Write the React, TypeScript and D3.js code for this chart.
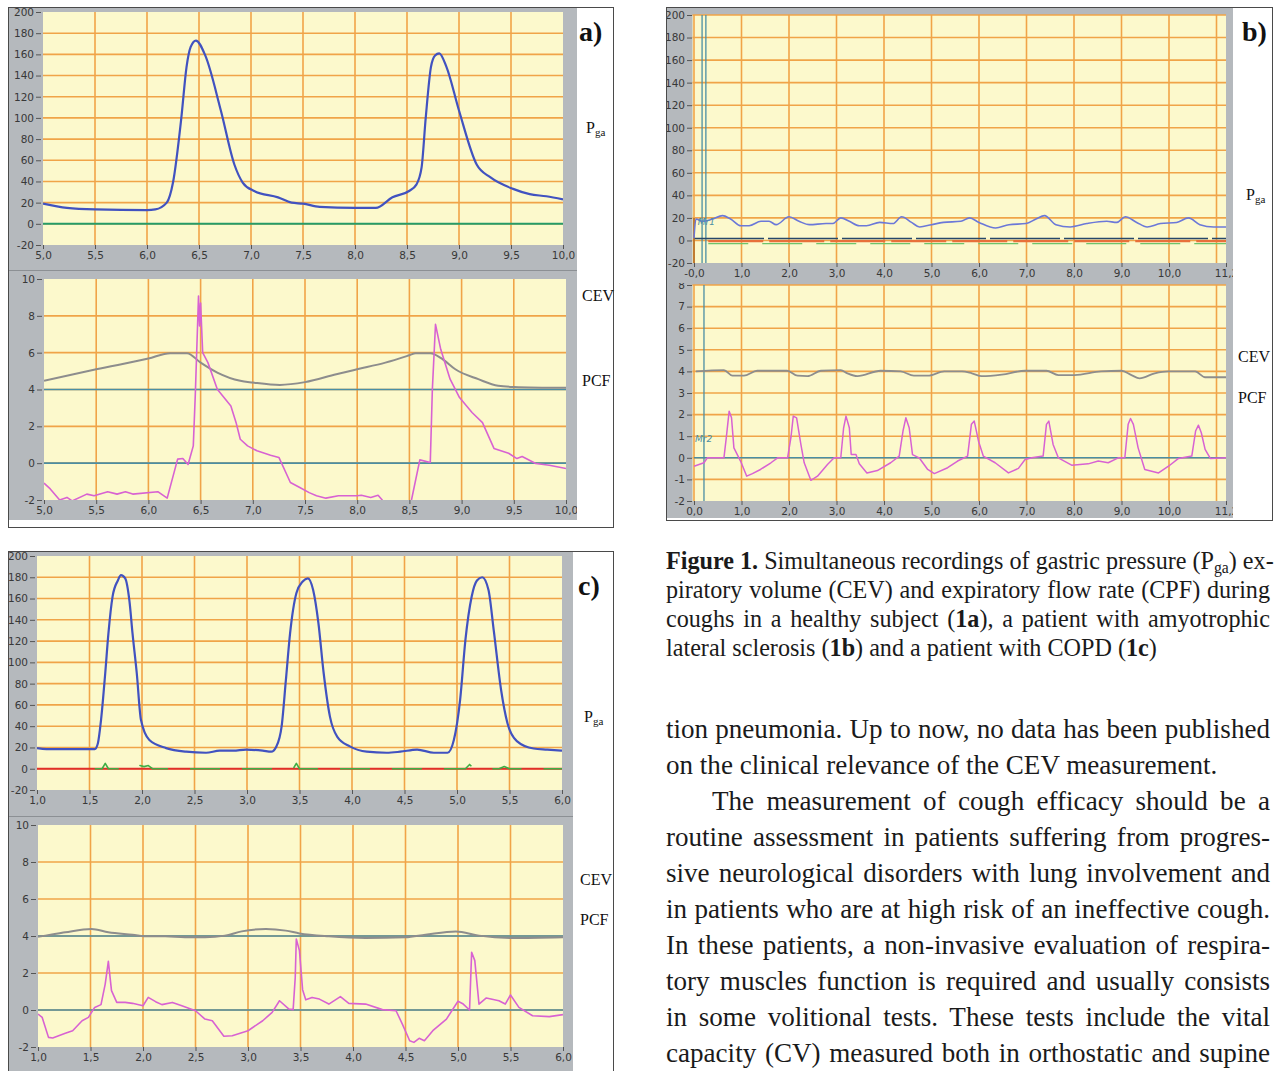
import { useEffect, useRef } from 'react';
import * as d3 from 'd3';

type Pt = [number, number];

// ---- axis ticks ----
const aTimeTicks = [5, 5.5, 6, 6.5, 7, 7.5, 8, 8.5, 9, 9.5, 10];
const cTimeTicks = [1, 1.5, 2, 2.5, 3, 3.5, 4, 4.5, 5, 5.5, 6];
const bTimeTicks = [0, 1, 2, 3, 4, 5, 6, 7, 8, 9, 10, 11.2];
const bTimeGrid = [0, 1, 2, 3, 4, 5, 6, 7, 8, 9, 10, 11];
const bTopTimeLabels = ['-0,0', '1,0', '2,0', '3,0', '4,0', '5,0', '6,0', '7,0', '8,0', '9,0', '10,0', '11,2'];
const bBotTimeLabels = ['0,0', '1,0', '2,0', '3,0', '4,0', '5,0', '6,0', '7,0', '8,0', '9,0', '10,0', '11,2'];
const pgaTicks = [-20, 0, 20, 40, 60, 80, 100, 120, 140, 160, 180, 200];
const flowTicks = [-2, 0, 2, 4, 6, 8, 10];
const bFlowTicks = [-2, -1, 0, 1, 2, 3, 4, 5, 6, 7, 8];

// ---- panel a: healthy subject ----
const aPga: Pt[] = [[5.0, 19], [5.23, 15], [5.5, 13.6], [6.0, 13], [6.08, 13.6], [6.19, 20], [6.25, 39], [6.33, 100], [6.38, 148], [6.42, 167], [6.47, 173], [6.56, 159], [6.71, 107], [6.84, 56], [6.92, 39], [7.03, 31], [7.26, 25], [7.39, 20], [7.5, 19], [7.66, 16], [8.0, 15], [8.2, 15], [8.36, 25], [8.52, 31], [8.59, 37], [8.64, 53], [8.68, 100], [8.73, 148], [8.77, 159], [8.81, 161], [8.88, 148], [9.0, 107], [9.17, 56], [9.3, 44], [9.52, 33], [9.68, 28], [9.84, 26], [10.0, 23]];
const aZero: Pt[] = [[5, 0], [10, 0]];
const aCev: Pt[] = [[5.0, 4.47], [5.5, 5.1], [6.0, 5.68], [6.21, 5.97], [6.37, 5.97], [6.5, 5.46], [6.66, 4.92], [6.88, 4.47], [7.0, 4.38], [7.26, 4.25], [7.5, 4.4], [7.8, 4.83], [8.0, 5.1], [8.27, 5.46], [8.5, 5.86], [8.56, 5.97], [8.7, 5.97], [8.82, 5.64], [8.94, 5.1], [9.16, 4.56], [9.35, 4.2], [9.5, 4.14], [10.0, 4.09]];
const aPcf: Pt[] = [[5.0, -1.08], [5.06, -1.4], [5.15, -2.0], [5.22, -1.86], [5.27, -2.05], [5.41, -1.68], [5.48, -1.77], [5.61, -1.55], [5.7, -1.68], [5.78, -1.55], [5.85, -1.68], [6.09, -1.55], [6.18, -1.9], [6.28, 0.22], [6.33, 0.25], [6.38, -0.07], [6.43, 0.94], [6.45, 3.83], [6.48, 9.08], [6.49, 7.45], [6.5, 8.7], [6.52, 6.0], [6.57, 5.46], [6.66, 4.01], [6.79, 3.11], [6.84, 2.2], [6.88, 1.3], [6.95, 0.94], [7.04, 0.67], [7.17, 0.43], [7.25, 0.31], [7.36, -1.05], [7.45, -1.32], [7.54, -1.6], [7.61, -1.77], [7.7, -1.9], [7.82, -1.77], [8.0, -1.77], [8.04, -1.74], [8.13, -1.86], [8.2, -1.74], [8.24, -2.0], [8.27, -2.6], [8.48, -2.6], [8.52, -2.0], [8.6, 0.18], [8.7, 0.04], [8.72, 4.01], [8.75, 7.54], [8.8, 6.18], [8.89, 4.56], [8.98, 3.56], [9.1, 2.75], [9.2, 2.2], [9.31, 0.8], [9.45, 0.54], [9.53, 0.25], [9.58, 0.36], [9.71, -0.02], [9.84, -0.11], [10.0, -0.29]];
const flowRefs = [0, 4];

// ---- panel b: ALS patient ----
const bPga: Pt[] = [[0.0, 2], [0.04, 19], [0.18, 17], [0.39, 19], [0.6, 22], [0.77, 19], [0.99, 13], [1.16, 13], [1.41, 17], [1.58, 17], [1.73, 14], [2.0, 21], [2.21, 17], [2.43, 14], [2.78, 15], [2.92, 15], [3.09, 20], [3.27, 17], [3.48, 13], [3.63, 13], [3.91, 16], [4.19, 15], [4.37, 21], [4.58, 16], [4.75, 12], [5.0, 14], [5.25, 16], [5.62, 17], [5.8, 20], [6.0, 16], [6.35, 11], [6.63, 14], [6.99, 15], [7.2, 19], [7.38, 22], [7.62, 14], [7.92, 12], [8.27, 15], [8.69, 17], [8.9, 16], [9.08, 21], [9.32, 16], [9.54, 12], [9.82, 15], [10.16, 16], [10.41, 20], [10.65, 14], [10.94, 12], [11.2, 12]];
const bBaseDark: Pt[] = [[0, 1.8], [11.2, 1.8]];
const bBaseOrange: Pt[] = [[0.3, -0.6], [11.2, -0.6]];
const bBaseGreen: Pt[] = [[0.3, -2.8], [11.2, -2.8]];
const bMarker: Pt[] = [[0, 20], [0, -20]];
const bCursorsTop = [0.17, 0.25];
const bCursorsBot = [0.21];
const bCev: Pt[] = [[0.04, 4.0], [0.63, 4.06], [0.81, 3.8], [1.05, 3.8], [1.33, 4.03], [1.96, 4.03], [2.18, 3.8], [2.39, 3.78], [2.67, 4.03], [3.09, 4.06], [3.23, 3.91], [3.44, 3.78], [3.93, 4.03], [4.35, 4.0], [4.63, 3.8], [4.92, 3.8], [5.27, 4.0], [5.64, 4.0], [5.85, 3.91], [6.06, 3.78], [6.48, 3.85], [6.97, 4.03], [7.42, 4.03], [7.67, 3.83], [8.01, 3.83], [8.57, 4.0], [9.0, 4.03], [9.21, 3.83], [9.38, 3.68], [9.7, 3.91], [9.99, 4.0], [10.55, 4.0], [10.76, 3.73], [11.2, 3.73]];
const bPcf: Pt[] = [[0.0, -0.39], [0.21, -0.23], [0.28, 0], [0.49, 0], [0.63, 0], [0.68, 0.93], [0.74, 2.16], [0.79, 1.85], [0.84, 0.46], [0.98, -0.15], [1.11, -0.85], [1.23, -0.73], [1.4, -0.54], [1.62, -0.23], [1.76, 0], [1.97, 0], [2.04, 0.93], [2.09, 1.93], [2.16, 1.85], [2.25, 0.62], [2.32, -0.23], [2.46, -1.04], [2.6, -0.85], [2.81, -0.31], [2.95, 0], [3.09, 0], [3.15, 1.39], [3.2, 1.93], [3.27, 1.39], [3.31, 0.15], [3.41, 0.15], [3.48, -0.28], [3.64, -0.7], [3.86, -0.59], [4.14, -0.23], [4.32, 0.08], [4.4, 1.24], [4.46, 1.85], [4.53, 1.39], [4.6, 0.15], [4.74, 0], [4.92, -0.54], [5.06, -0.73], [5.34, -0.46], [5.55, -0.15], [5.76, 0.08], [5.84, 1.55], [5.9, 1.7], [5.99, 0.77], [6.09, 0.08], [6.34, -0.23], [6.62, -0.7], [6.83, -0.49], [6.97, -0.08], [7.11, 0], [7.35, 0.08], [7.42, 1.55], [7.47, 1.7], [7.56, 0.62], [7.67, 0], [7.95, -0.34], [8.3, -0.28], [8.51, -0.15], [8.72, -0.23], [8.93, 0], [9.07, 0], [9.14, 1.55], [9.19, 1.82], [9.25, 1.55], [9.35, 0.46], [9.49, -0.54], [9.78, -0.7], [9.99, -0.39], [10.2, -0.03], [10.48, 0.08], [10.56, 1.24], [10.62, 1.51], [10.68, 1.16], [10.76, 0.39], [10.87, -0.03], [11.2, 0]];

// ---- panel c: COPD patient ----
const cPga: Pt[] = [[1.0, 19.4], [1.09, 18.4], [1.55, 18.4], [1.58, 24], [1.61, 46], [1.65, 90], [1.68, 127], [1.72, 162], [1.77, 177], [1.8, 182], [1.84, 179], [1.88, 158], [1.91, 127], [1.95, 90], [1.99, 46], [2.07, 27], [2.23, 19.4], [2.42, 16], [2.61, 15], [2.74, 17], [2.87, 17], [2.99, 18], [3.15, 17], [3.23, 16], [3.28, 21], [3.33, 40], [3.37, 83], [3.41, 127], [3.47, 165], [3.53, 176], [3.58, 179], [3.63, 168], [3.68, 137], [3.73, 90], [3.79, 49], [3.86, 30], [3.98, 21], [4.14, 16], [4.33, 15], [4.46, 16], [4.62, 18], [4.78, 15], [4.91, 15], [4.97, 27], [5.03, 65], [5.08, 121], [5.14, 162], [5.19, 177], [5.24, 180], [5.3, 168], [5.35, 130], [5.42, 74], [5.48, 43], [5.57, 26], [5.73, 19], [5.86, 18], [6.0, 17]];
const cRed: Pt[] = [[1, 0], [6, 0]];
const cGreen: Pt[] = [[1.55, 0], [1.62, 0], [1.65, 5], [1.68, 0], [1.95, 0], [1.98, 3], [2.02, 2], [2.06, 3], [2.1, 0], [3.44, 0], [3.47, 5], [3.5, 0], [5.08, 0], [5.12, 4], [5.16, 0], [5.4, 0], [5.45, 2], [5.5, 0], [6.0, 0]];
const cCev: Pt[] = [[1.0, 3.96], [1.07, 4.02], [1.26, 4.2], [1.51, 4.38], [1.67, 4.2], [1.9, 4.07], [2.05, 3.98], [2.21, 3.98], [2.4, 3.93], [2.59, 3.93], [2.78, 4.02], [2.94, 4.25], [3.17, 4.38], [3.36, 4.29], [3.49, 4.14], [3.77, 3.98], [4.12, 3.89], [4.5, 3.93], [4.69, 4.07], [4.98, 4.25], [5.2, 4.02], [5.52, 3.89], [6.0, 3.93]];
const cPcf: Pt[] = [[1.0, -0.22], [1.04, -0.4], [1.1, -1.48], [1.14, -1.51], [1.26, -1.26], [1.33, -1.12], [1.42, -0.58], [1.48, -0.4], [1.54, 0.14], [1.6, 0.29], [1.64, 1.4], [1.67, 2.63], [1.7, 1.05], [1.75, 0.41], [1.83, 0.41], [1.9, 0.36], [2.0, 0.23], [2.05, 0.68], [2.12, 0.45], [2.18, 0.29], [2.28, 0.41], [2.37, 0.23], [2.5, -0.04], [2.59, -0.49], [2.66, -0.58], [2.77, -1.42], [2.85, -1.39], [3.0, -1.12], [3.14, -0.58], [3.23, -0.13], [3.3, 0.5], [3.39, 0.05], [3.43, 0.02], [3.45, 1.77], [3.46, 3.84], [3.49, 3.21], [3.52, 1.1], [3.55, 0.55], [3.61, 0.68], [3.68, 0.59], [3.77, 0.32], [3.88, 0.72], [3.96, 0.36], [4.12, 0.32], [4.28, 0.02], [4.41, -0.04], [4.47, -0.76], [4.54, -1.66], [4.58, -1.75], [4.63, -1.53], [4.68, -1.66], [4.76, -1.12], [4.89, -0.49], [5.0, 0.47], [5.05, 0.32], [5.11, 0.0], [5.13, 3.12], [5.16, 2.67], [5.2, 0.32], [5.27, 0.65], [5.39, 0.5], [5.45, 0.32], [5.5, 0.81], [5.58, 0.14], [5.71, -0.31], [5.87, -0.36], [6.0, -0.25]];

// ---- text ----
const captionLines = [
  [{ t: 'Figure 1.', b: true }, { t: ' Simultaneous recordings of gastric pressure (P' }, { t: 'ga', sub: true }, { t: ') ex-' }],
  [{ t: 'piratory volume (CEV) and expiratory flow rate (CPF) during' }],
  [{ t: 'coughs in a healthy subject (' }, { t: '1a', b: true }, { t: '), a patient with amyotrophic' }],
  [{ t: 'lateral sclerosis (' }, { t: '1b', b: true }, { t: ') and a patient with COPD (' }, { t: '1c', b: true }, { t: ')' }],
];
const bodyLines = [
  'tion pneumonia. Up to now, no data has been published',
  'on the clinical relevance of the CEV measurement.',
  'The measurement of cough efficacy should be a',
  'routine assessment in patients suffering from progres-',
  'sive neurological disorders with lung involvement and',
  'in patients who are at high risk of an ineffective cough.',
  'In these patients, a non-invasive evaluation of respira-',
  'tory muscles function is required and usually consists',
  'in some volitional tests. These tests include the vital',
  'capacity (CV) measured both in orthostatic and supine',
];

const YELLOW = '#fcf9cc';
const GRID = '#f0a448';
const WIN = '#b5b9bd';
const PGA = '#4152c0';
const CEV = '#8d8d8d';
const PCF = '#d862d2';
const REF = '#4a8ea4';
const SERIF = '"Liberation Serif", "DejaVu Serif", serif';
const TICKFONT = '"DejaVu Sans", Verdana, sans-serif';

const fmt = (v: number) => d3.format('.1f')(v).replace('.', ',');

function drawPlot(root: any, id: string, cfg: any) {
  const x = d3.scaleLinear().domain(cfg.xd).range([cfg.x0, cfg.x1]);
  const y = d3.scaleLinear().domain(cfg.yd).range([cfg.yb, cfg.yt]);

  const wrap = root.append('g').attr('clip-path', `url(#${id}-win)`);
  root.append('clipPath').attr('id', `${id}-win`).append('rect')
    .attr('x', cfg.win[0]).attr('y', cfg.win[1]).attr('width', cfg.win[2]).attr('height', cfg.win[3]);

  wrap.append('rect')
    .attr('x', cfg.x0 - (cfg.padL || 0)).attr('y', cfg.yt)
    .attr('width', cfg.x1 - cfg.x0 + (cfg.padL || 0)).attr('height', cfg.yb - cfg.yt)
    .attr('fill', YELLOW);

  wrap.append('g').selectAll('line').data(cfg.xGrid).enter().append('line')
    .attr('x1', (d: number) => x(d)).attr('x2', (d: number) => x(d))
    .attr('y1', cfg.yt).attr('y2', cfg.yb)
    .attr('stroke', GRID).attr('stroke-width', 1.6);
  wrap.append('g').selectAll('line').data(cfg.yGrid).enter().append('line')
    .attr('x1', cfg.x0 - (cfg.padL || 0)).attr('x2', cfg.x1)
    .attr('y1', (d: number) => y(d)).attr('y2', (d: number) => y(d))
    .attr('stroke', GRID).attr('stroke-width', 1.6);

  root.append('clipPath').attr('id', `${id}-plot`).append('rect')
    .attr('x', cfg.x0 - (cfg.padL || 0)).attr('y', cfg.yt)
    .attr('width', cfg.x1 - cfg.x0 + (cfg.padL || 0)).attr('height', cfg.yb - cfg.yt);
  const g = wrap.append('g').attr('clip-path', `url(#${id}-plot)`);

  (cfg.refs || []).forEach((v: number) => {
    g.append('line').attr('x1', cfg.x0).attr('x2', cfg.x1)
      .attr('y1', y(v)).attr('y2', y(v))
      .attr('stroke', REF).attr('stroke-width', 1.6);
  });
  (cfg.cursors || []).forEach((v: number) => {
    g.append('line').attr('x1', x(v)).attr('x2', x(v))
      .attr('y1', cfg.yt).attr('y2', cfg.yb)
      .attr('stroke', REF).attr('stroke-width', 1.3);
  });

  cfg.series.forEach((s: any) => {
    const line = d3.line<Pt>().x((d) => x(d[0])).y((d) => y(d[1]))
      .curve(s.smooth ? d3.curveMonotoneX : d3.curveLinear);
    g.append('path').datum(s.data).attr('d', line)
      .attr('fill', 'none').attr('stroke', s.color).attr('stroke-width', s.w)
      .attr('stroke-linejoin', 'round')
      .attr('stroke-dasharray', s.dash || null);
  });

  (cfg.marks || []).forEach((m: any) => {
    g.append('text').attr('x', x(m.x)).attr('y', y(m.y)).text(m.t)
      .attr('font-family', TICKFONT).attr('font-size', 9).attr('font-style', 'italic')
      .attr('fill', REF);
  });

  const ya = wrap.append('g').attr('transform', `translate(${cfg.x0 - 2},0)`)
    .call(d3.axisLeft(y).tickValues(cfg.yTicks).tickSize(5).tickPadding(2)
      .tickFormat((d: any) => String(d)));
  const xa = wrap.append('g').attr('transform', `translate(0,${cfg.yb})`)
    .call(d3.axisBottom(x).tickValues(cfg.xTicks).tickSize(4).tickPadding(3)
      .tickFormat((d: any, i: number) => (cfg.xLabels ? cfg.xLabels[i] : fmt(d))));
  [ya, xa].forEach((a) => {
    a.select('.domain').remove();
    a.selectAll('line').attr('stroke', '#555');
    a.selectAll('text').attr('font-family', TICKFONT).attr('font-size', 10.5).attr('fill', '#383838');
  });
}

// justify a text element by stretching its word spaces
function justify(t: any, str: string, width: number) {
  const nat = t.node().getComputedTextLength();
  const spaces = (str.match(/ /g) || []).length;
  if (spaces > 0) t.attr('word-spacing', Math.max(0, (width - nat) / spaces));
}

function App() {
  const ref = useRef<SVGSVGElement>(null);

  useEffect(() => {
    const svg = d3.select(ref.current);
    svg.selectAll('*').remove();
    const root = svg.append('g');

    // window frames
    const frames = [
      { x: 8.5, y: 7.5, w: 605, h: 520, gw: 568, gh: 512, sep: 270.5 },
      { x: 666.5, y: 7.5, w: 606, h: 513, gw: 566, gh: 510, sep: null },
      { x: 8.5, y: 551.5, w: 605, h: 600, gw: 564, gh: 600, sep: 816.5 },
    ];
    frames.forEach((f) => {
      root.append('rect').attr('x', f.x).attr('y', f.y).attr('width', f.w).attr('height', f.h)
        .attr('fill', '#fff').attr('stroke', '#4a4a4a').attr('stroke-width', 1);
      root.append('rect').attr('x', f.x + 0.5).attr('y', f.y + 0.5).attr('width', f.gw).attr('height', f.gh)
        .attr('fill', WIN);
      if (f.sep) {
        root.append('line').attr('x1', f.x + 0.5).attr('x2', f.x + 0.5 + f.gw)
          .attr('y1', f.sep).attr('y2', f.sep).attr('stroke', '#8c9094').attr('stroke-width', 1);
      }
    });

    // panel a
    drawPlot(root, 'at', {
      xd: [5, 10], yd: [-20, 200], x0: 43, x1: 563, yt: 12, yb: 245,
      win: [9, 8, 568, 262], xGrid: aTimeTicks.slice(1, -1), yGrid: pgaTicks.slice(1, -1),
      xTicks: aTimeTicks, yTicks: pgaTicks,
      series: [
        { data: aZero, color: '#259c68', w: 2 },
        { data: aPga, color: PGA, w: 2.2, smooth: true },
      ],
    });
    drawPlot(root, 'ab', {
      xd: [5, 10], yd: [-2, 10], x0: 44, x1: 566, yt: 279, yb: 500,
      win: [9, 271, 568, 249], xGrid: aTimeTicks.slice(1, -1), yGrid: flowTicks.slice(1, -1),
      xTicks: aTimeTicks, yTicks: flowTicks, refs: flowRefs,
      series: [
        { data: aCev, color: CEV, w: 2, smooth: true },
        { data: aPcf, color: PCF, w: 1.6 },
      ],
    });

    // panel b
    drawPlot(root, 'bt', {
      xd: [0, 11.2], yd: [-20, 200], x0: 694, x1: 1226, yt: 15, yb: 263, padL: 1.5,
      win: [667, 8, 566, 275], xGrid: bTimeGrid, yGrid: pgaTicks.slice(1),
      xTicks: bTimeTicks, xLabels: bTopTimeLabels, yTicks: pgaTicks, cursors: bCursorsTop,
      marks: [{ x: 0.08, y: 14, t: 'Mr1' }],
      series: [
        { data: bBaseGreen, color: '#6cc46c', w: 1.2, dash: '40 14' },
        { data: bBaseOrange, color: '#e8703a', w: 2.4, dash: '55 6' },
        { data: bBaseDark, color: '#27486a', w: 1.5, dash: '70 4' },
        { data: bMarker, color: '#b06a20', w: 1.5 },
        { data: bPga, color: '#6b78d8', w: 1.6, smooth: true },
      ],
    });
    drawPlot(root, 'bb', {
      xd: [0, 11.2], yd: [-2, 8], x0: 694, x1: 1226, yt: 285, yb: 501, padL: 1.5,
      win: [667, 283, 566, 235], xGrid: bTimeGrid, yGrid: bFlowTicks.slice(1),
      xTicks: bTimeTicks, xLabels: bBotTimeLabels, yTicks: bFlowTicks, refs: [0],
      cursors: bCursorsBot, marks: [{ x: 0.02, y: 0.75, t: 'Mr2' }],
      series: [
        { data: bCev, color: CEV, w: 1.8, smooth: true },
        { data: bPcf, color: PCF, w: 1.5 },
      ],
    });

    // panel c
    drawPlot(root, 'ct', {
      xd: [1, 6], yd: [-20, 200], x0: 37, x1: 562, yt: 556, yb: 790,
      win: [9, 552, 564, 264], xGrid: cTimeTicks.slice(1, -1), yGrid: pgaTicks.slice(1, -1),
      xTicks: cTimeTicks, yTicks: pgaTicks,
      series: [
        { data: cRed, color: '#e0302a', w: 2 },
        { data: cGreen, color: '#3fae45', w: 1.6, dash: '30 22' },
        { data: cPga, color: PGA, w: 2.2, smooth: true },
      ],
    });
    drawPlot(root, 'cb', {
      xd: [1, 6], yd: [-2, 10], x0: 38, x1: 563, yt: 825, yb: 1047,
      win: [9, 817, 564, 260], xGrid: cTimeTicks.slice(1, -1), yGrid: flowTicks.slice(1, -1),
      xTicks: cTimeTicks, yTicks: flowTicks, refs: flowRefs,
      series: [
        { data: cCev, color: CEV, w: 2, smooth: true },
        { data: cPcf, color: PCF, w: 1.6 },
      ],
    });

    // side labels
    const side = [
      { t: 'a)', x: 579, y: 41, big: true },
      { t: 'P', sub: 'ga', x: 586, y: 133 },
      { t: 'CEV', x: 582, y: 301 },
      { t: 'PCF', x: 582, y: 386 },
      { t: 'b)', x: 1242, y: 41, big: true },
      { t: 'P', sub: 'ga', x: 1246, y: 200 },
      { t: 'CEV', x: 1238, y: 362 },
      { t: 'PCF', x: 1238, y: 403 },
      { t: 'c)', x: 578, y: 595, big: true },
      { t: 'P', sub: 'ga', x: 584, y: 722 },
      { t: 'CEV', x: 580, y: 885 },
      { t: 'PCF', x: 580, y: 925 },
    ];
    side.forEach((s) => {
      const t = root.append('text').attr('x', s.x).attr('y', s.y)
        .attr('font-family', SERIF).attr('fill', '#111')
        .attr('font-size', s.big ? 28 : 16).attr('font-weight', s.big ? 'bold' : 'normal');
      t.append('tspan').text(s.t);
      if (s.sub) t.append('tspan').attr('font-size', 11).attr('dy', 3).text(s.sub);
    });

    // caption: size the font so the unjustified last line fits its width
    const capTexts: any[] = [];
    captionLines.forEach((parts, i) => {
      const t = root.append('text').attr('x', 666).attr('y', 569 + i * 29)
        .attr('font-family', SERIF).attr('font-size', 20).attr('fill', '#1a1a1a');
      parts.forEach((p: any) => {
        const s = t.append('tspan').text(p.t);
        if (p.b) s.attr('font-weight', 'bold');
        if (p.sub) s.attr('font-size', 13).attr('dy', 4);
        else if (parts.some((q: any) => q.sub) && p.t.startsWith(')')) s.attr('dy', -4);
      });
      capTexts.push(t);
    });
    const capScale = 491 / capTexts[3].node().getComputedTextLength();
    capTexts.forEach((t, i) => {
      t.attr('font-size', 20 * capScale);
      t.selectAll('tspan').filter((_: any, j: number) => captionLines[i][j] && (captionLines[i][j] as any).sub)
        .attr('font-size', 13 * capScale);
      if (i < 3) justify(t, captionLines[i].map((p) => p.t).join(''), 604);
    });

    // body text: size so the widest justified line just fills the column
    const bodyX = (i: number) => (i === 2 ? 712 : 666);
    const bodyTexts = bodyLines.map((line, i) => root.append('text')
      .attr('x', bodyX(i)).attr('y', 738 + i * 36)
      .attr('font-family', SERIF).attr('font-size', 24).attr('fill', '#1a1a1a')
      .text(line));
    const fill = d3.max(bodyTexts, (t, i) => (i === 1 ? 0
      : t.node().getComputedTextLength() / (1270 - bodyX(i)))) || 1;
    bodyTexts.forEach((t, i) => {
      t.attr('font-size', 24 / fill * 0.995);
      if (i !== 1) justify(t, bodyLines[i], 1270 - bodyX(i));
    });
  }, []);

  return (
    <svg ref={ref} width={1276} height={1071}
      style={{ position: 'absolute', left: 0, top: 0, background: '#fff' }} />
  );
}

export default App;
